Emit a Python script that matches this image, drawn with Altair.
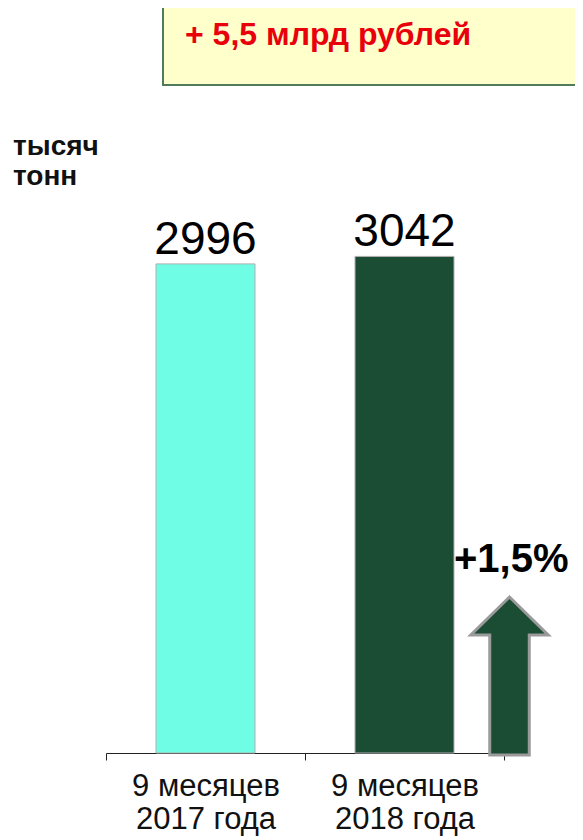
import altair as alt
import pandas as pd

# ---- data ----
periods = ["9 месяцев|2017 года", "9 месяцев|2018 года"]
values = [2996, 3042]
bar_colors = ["#6ffde6", "#1a4d33"]

unit_lines = ["тысяч", "тонн"]
headline = "+ 5,5 млрд рублей"
growth = "+1,5%"

FONT = "Liberation Sans"

df = pd.DataFrame({"period": periods, "value": values})
one = pd.DataFrame({"k": [0]})

x_enc = alt.X(
    "period:N",
    sort=periods,
    scale=alt.Scale(paddingInner=0, paddingOuter=0),
    axis=alt.Axis(
        title=None,
        labelExpr="split(datum.label, '|')",
        labelFont=FONT,
        labelFontSize=31,
        labelLineHeight=33,
        labelColor="#111111",
        labelAngle=0,
        labelBaseline="top",
        labelPadding=11,
        labelLimit=0,
        tickBand="extent",
        tickSize=7,
        tickColor="#222222",
        domainColor="#222222",
        tickWidth=1,
        domainWidth=1,
    ),
)
y_enc = alt.Y("value:Q", scale=alt.Scale(domain=[0, 4000], nice=False, zero=True), axis=None)

bars = alt.Chart(df).mark_bar(width=99, stroke="#b0b0b0", strokeWidth=1).encode(
    x=x_enc,
    y=y_enc,
    color=alt.Color("period:N", scale=alt.Scale(domain=periods, range=bar_colors), legend=None),
)

labels = alt.Chart(df).mark_text(
    font=FONT, fontSize=46, color="#000000", baseline="alphabetic", dy=-10
).encode(x=alt.X("period:N", sort=periods), y="value:Q", text=alt.Text("value:Q", format="d"))

box = alt.Chart(one).mark_rect(fill="#ffffcc", stroke="#4f7a5c", strokeWidth=2).encode(
    x=alt.value(57), x2=alt.value(490), y=alt.value(-93), y2=alt.value(-15)
)
box_text = alt.Chart(one).mark_text(
    text=headline, font=FONT, fontSize=32, fontWeight="bold", color="#e8000b",
    align="left", baseline="alphabetic"
).encode(x=alt.value(79), y=alt.value(-55))

unit_text = alt.Chart(one).mark_text(
    text=unit_lines, font=FONT, fontSize=28, fontWeight="bold", color="#111111",
    align="left", baseline="alphabetic", lineHeight=30
).encode(x=alt.value(-93), y=alt.value(55))

arrow_path = "M 0 -1 L 0.49 -0.52 L 0.25 -0.52 L 0.25 1 L -0.25 1 L -0.25 -0.52 L -0.49 -0.52 Z"
arrow = alt.Chart(one).mark_point(
    shape=arrow_path, size=24964, filled=True, fill="#1a4d33", stroke="#9a9a9a",
    strokeWidth=3, opacity=1
).encode(x=alt.value(403.5), y=alt.value(576))

growth_text = alt.Chart(one).mark_text(
    text=growth, font=FONT, fontSize=40, fontWeight="bold", color="#000000",
    align="left", baseline="alphabetic"
).encode(x=alt.value(348), y=alt.value(472))

chart = alt.layer(box, box_text, unit_text, bars, labels, arrow, growth_text).properties(
    width=398,
    height=653,
    autosize=alt.AutoSizeParams(type="none"),
    padding={"left": 98, "top": 92, "right": 71, "bottom": 87},
).configure_view(stroke=None)

chart.save("out.html", embed_options={"renderer": "svg", "actions": False})
